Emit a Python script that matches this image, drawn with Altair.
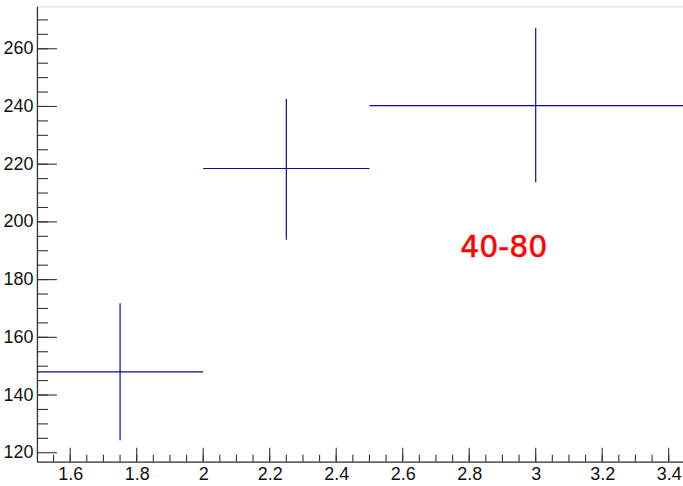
import altair as alt
import pandas as pd

# Bin centres, half-widths, measured values and errors
x_center = [1.75, 2.25, 3.0]
x_low = [1.5, 2.0, 2.5]
x_high = [2.0, 2.5, 3.5]
y_value = [148.0, 218.5, 240.3]
y_low = [124.3, 193.8, 213.7]
y_high = [171.8, 242.6, 267.2]

label_text = ["40-80"]
label_x = [2.904]
label_y = [191.0]

x_major = [1.6, 1.8, 2.0, 2.2, 2.4, 2.6, 2.8, 3.0, 3.2, 3.4]
x_minor = [round(1.55 + 0.05 * i, 2) for i in range(38)]
y_major = [120, 140, 160, 180, 200, 220, 240, 260]
y_minor = [125 + 5 * i for i in range(30)]

X_DOMAIN = [1.5, 3.443]
Y_DOMAIN = [116.9, 274.7]
W, H = 647, 456

pts = pd.DataFrame({"xc": x_center, "xl": x_low, "xh": x_high,
                    "y": y_value, "yl": y_low, "yh": y_high})

xs = alt.Scale(domain=X_DOMAIN, nice=False, zero=False)
ys = alt.Scale(domain=Y_DOMAIN, nice=False, zero=False)

line_col = "#0a0a9e"
axis_col = "#333333"

x_axis = alt.Axis(values=x_major, ticks=False, grid=False, domainColor=axis_col,
                  domainWidth=1.3, labelFont="Liberation Sans", labelFontSize=18,
                  labelColor="#111111", labelPadding=4, title=None,
                  labelExpr="format(datum.value, '.1~f')", labelFlush=False)
y_axis = alt.Axis(values=y_major, ticks=False, grid=False, domainColor=axis_col,
                  domainWidth=1.3, labelFont="Liberation Sans", labelFontSize=18,
                  labelColor="#111111", labelPadding=4, title=None)

hbar = alt.Chart(pts).mark_rule(color=line_col, strokeWidth=1.2).encode(
    x=alt.X("xl:Q", scale=xs, axis=x_axis),
    x2="xh:Q",
    y=alt.Y("y:Q", scale=ys, axis=y_axis),
)
vbar = alt.Chart(pts).mark_rule(color=line_col, strokeWidth=1.2).encode(
    x=alt.X("xc:Q", scale=xs),
    y=alt.Y("yl:Q", scale=ys),
    y2="yh:Q",
)

# Inward-pointing ticks along the bottom and left axes
def xticks(vals, length):
    return alt.Chart(pd.DataFrame({"v": vals})).mark_rule(
        color=axis_col, strokeWidth=1.1).encode(
        x=alt.X("v:Q", scale=xs), y=alt.value(H), y2=alt.value(H - length))

def yticks(vals, length):
    return alt.Chart(pd.DataFrame({"v": vals})).mark_rule(
        color=axis_col, strokeWidth=1.1).encode(
        y=alt.Y("v:Q", scale=ys), x=alt.value(0), x2=alt.value(length))

label = alt.Chart(pd.DataFrame({"t": label_text, "x": label_x, "y": label_y})).mark_text(
    color="#ff0000", stroke="#ff0000", strokeWidth=0.5, font="DejaVu Sans", fontSize=30,
    align="center", baseline="middle").encode(
    x=alt.X("x:Q", scale=xs), y=alt.Y("y:Q", scale=ys), text="t:N")

chart = alt.layer(
    xticks(x_minor, 7), xticks(x_major, 14),
    yticks(y_minor, 11), yticks(y_major, 20),
    hbar, vbar, label,
).properties(
    width=W, height=H,
    autosize=alt.AutoSizeParams(type="none"),
    padding={"left": 37, "top": 6, "right": 0, "bottom": 24},
).configure_view(stroke=axis_col, strokeWidth=1.5).configure(background="white")

chart.save("out.html", embed_options={"renderer": "svg", "actions": False})
